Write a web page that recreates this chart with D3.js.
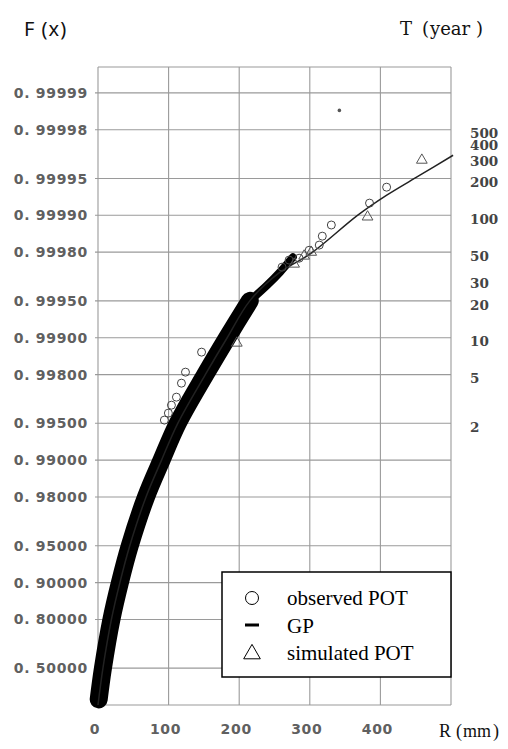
<!DOCTYPE html>
<html><head><meta charset="utf-8">
<script src="https://cdn.jsdelivr.net/npm/d3@7"></script>
<style>body{margin:0;background:#fff}svg{display:block}</style>
</head><body>
<svg id="c" width="508" height="749"></svg>
<script>
// ---- data ----
const fTicks = [0.5, 0.8, 0.9, 0.95, 0.98, 0.99, 0.995, 0.998, 0.999, 0.9995, 0.9998, 0.9999, 0.99995, 0.99998, 0.99999];
const fTickLabels = ["0. 50000","0. 80000","0. 90000","0. 95000","0. 98000","0. 99000","0. 99500","0. 99800","0. 99900","0. 99950","0. 99980","0. 99990","0. 99995","0. 99998","0. 99999"];
const rTicks = [0, 100, 200, 300, 400];
const rTickLabels = ["0", "100", "200", "300", "400"];
const tTicks = [2, 5, 10, 20, 30, 50, 100, 200, 300, 400, 500];
const eventsPerYear = 93;

// dense cloud of observed POT (centre line of the black band)
const bandR = [1, 7, 19, 31, 45, 68, 90, 113, 152, 183, 215];
const bandF = [0.1, 0.5, 0.8, 0.9, 0.95, 0.98, 0.99, 0.995, 0.998, 0.999, 0.9995];
const bandTailR = [215, 240, 258, 276];
const bandTailF = [0.9995, 0.99963, 0.99971, 0.99978];

// fitted GP curve
const gpR = [0, 7, 19, 31, 45, 68, 90, 113, 152, 183, 215, 256, 302, 368, 409, 456, 503];
const gpF = [0, 0.5, 0.8, 0.9, 0.95, 0.98, 0.99, 0.995, 0.998, 0.999, 0.9995, 0.999703, 0.999796, 0.9999003, 0.9999316, 0.999953, 0.9999677];

// individually visible observed POT
const obsR = [146.7, 123.9, 118.2, 111.1, 104.0, 99.7, 94.0, 260.7, 270.7, 284.9, 299.1, 313.4, 317.7, 330.5, 384.6, 408.8];
const obsF = [0.998689, 0.998090, 0.997650, 0.996943, 0.996444, 0.995873, 0.995293, 0.999735, 0.999768, 0.999776, 0.999807, 0.999825, 0.999852, 0.999880, 0.9999205, 0.9999411];

// individually visible simulated POT
const simR = [196.6, 277.8, 292.0, 302.0, 381.8, 458.7];
const simF = [0.998895, 0.999750, 0.999785, 0.999800, 0.999897, 0.9999646];

// isolated speck
const strayR = [341.9];
const strayF = [0.9999861];

// ---- layout ----
const svg = d3.select("#c");
const L = 98, R = 451, T = 67, B = 705;
const x = d3.scaleLinear().domain([0, 500]).range([L, R]);
const yq = d3.scaleLog().domain([1, Math.exp(-12)]).range([B, T]); // on 1-F
const y = F => yq(1 - F);
const yT = t => yq(1 / (eventsPerYear * t));

const grid = svg.append("g").attr("stroke", "#9a9a9a").attr("stroke-width", 1.1);
fTicks.forEach(f => grid.append("line").attr("x1", L - 3).attr("x2", R).attr("y1", y(f)).attr("y2", y(f)));
grid.append("line").attr("x1", L - 3).attr("x2", R).attr("y1", B).attr("y2", B);
grid.append("line").attr("x1", L).attr("x2", R).attr("y1", T).attr("y2", T);
[0, 100, 200, 300, 400, 500].forEach(v => grid.append("line").attr("x1", x(v)).attr("x2", x(v)).attr("y1", T).attr("y2", B));

// left labels
svg.append("g").selectAll("text").data(fTicks).join("text")
  .attr("x", 88).attr("y", d => y(d)).attr("dy", "0.36em")
  .attr("text-anchor", "end")
  .attr("font-family", "DejaVu Sans").attr("font-weight", "bold").attr("font-size", 14)
  .attr("letter-spacing", 0.7).attr("fill", "#606060")
  .text((d, i) => fTickLabels[i]);

// bottom labels
svg.append("g").selectAll("text").data(rTicks).join("text")
  .attr("x", d => x(d) - 3).attr("y", 734).attr("text-anchor", "middle")
  .attr("font-family", "DejaVu Sans").attr("font-weight", "bold").attr("font-size", 14)
  .attr("letter-spacing", 0.7).attr("fill", "#606060")
  .text((d, i) => rTickLabels[i]);

// right T labels
svg.append("g").selectAll("text").data(tTicks).join("text")
  .attr("x", 470).attr("y", d => yT(d)).attr("dy", "0.36em")
  .attr("font-family", "DejaVu Serif").attr("font-weight", "bold").attr("font-size", 13.5).attr("fill", "#444")
  .text(d => d);

// titles
svg.append("text").attr("x", 24).attr("y", 36).attr("font-family", "Noto Sans").attr("font-size", 20)
  .attr("letter-spacing", 1).attr("fill", "#111").text("F (x)");
const tt = svg.append("text").attr("y", 35).attr("font-family", "DejaVu Serif")
  .attr("font-size", 18).attr("fill", "#111");
tt.append("tspan").attr("x", 400).text("T");
tt.append("tspan").attr("x", 422).text("(");
tt.append("tspan").attr("x", 430).text("year");
tt.append("tspan").attr("x", 476).text(")");
const rt = svg.append("text").attr("y", 737).attr("font-family", "Liberation Serif")
  .attr("font-size", 18).attr("fill", "#111");
rt.append("tspan").attr("x", 439).text("R");
rt.append("tspan").attr("x", 456).text("(");
rt.append("tspan").attr("x", 463).text("mm");
rt.append("tspan").attr("x", 493).text(")");

// band
const lineGen = d3.line().curve(d3.curveCatmullRom.alpha(0.5));
svg.append("path").attr("d", lineGen(bandR.map((r, i) => [x(r), y(bandF[i])])))
  .attr("fill", "none").attr("stroke", "#000").attr("stroke-width", 18).attr("stroke-linecap", "round").attr("stroke-linejoin", "round");
svg.append("path").attr("d", lineGen(bandTailR.map((r, i) => [x(r), y(bandTailF[i])])))
  .attr("fill", "none").attr("stroke", "#000").attr("stroke-width", 8).attr("stroke-linecap", "round");

// GP
svg.append("path").attr("d", lineGen(gpR.map((r, i) => [x(r), y(gpF[i])])))
  .attr("fill", "none").attr("stroke", "#222").attr("stroke-width", 1.5);

// observed
svg.append("g").selectAll("circle").data(obsR).join("circle")
  .attr("cx", d => x(d)).attr("cy", (d, i) => y(obsF[i])).attr("r", 4)
  .attr("fill", "none").attr("stroke", "#444").attr("stroke-width", 1);
// simulated
const tri = d3.symbol().type(d3.symbolTriangle).size(50);
svg.append("g").selectAll("path").data(simR).join("path")
  .attr("d", tri).attr("transform", (d, i) => `translate(${x(d)},${y(simF[i])})`)
  .attr("fill", "none").attr("stroke", "#555").attr("stroke-width", 1);
svg.append("g").selectAll("circle").data(strayR).join("circle")
  .attr("cx", d => x(d)).attr("cy", (d, i) => y(strayF[i])).attr("r", 1.8).attr("fill", "#555");

// legend
const lg = svg.append("g");
lg.append("rect").attr("x", 222).attr("y", 572).attr("width", 229).attr("height", 105)
  .attr("fill", "#fff").attr("stroke", "#000").attr("stroke-width", 1.5);
lg.append("circle").attr("cx", 252).attr("cy", 598).attr("r", 6.5).attr("fill", "none").attr("stroke", "#000").attr("stroke-width", 1);
lg.append("line").attr("x1", 245).attr("x2", 259).attr("y1", 625).attr("y2", 625).attr("stroke", "#000").attr("stroke-width", 3);
lg.append("path").attr("d", d3.symbol().type(d3.symbolTriangle).size(120)).attr("transform", "translate(252,654)")
  .attr("fill", "none").attr("stroke", "#000").attr("stroke-width", 1);
const legTxt = ["observed POT", "GP", "simulated POT"];
lg.selectAll("text.l").data(legTxt).join("text").attr("class", "l")
  .attr("x", 287).attr("y", (d, i) => 605 + i * 27.5)
  .attr("font-family", "Liberation Serif").attr("font-size", 21).attr("fill", "#000").text(d => d);
</script>
</body></html>
